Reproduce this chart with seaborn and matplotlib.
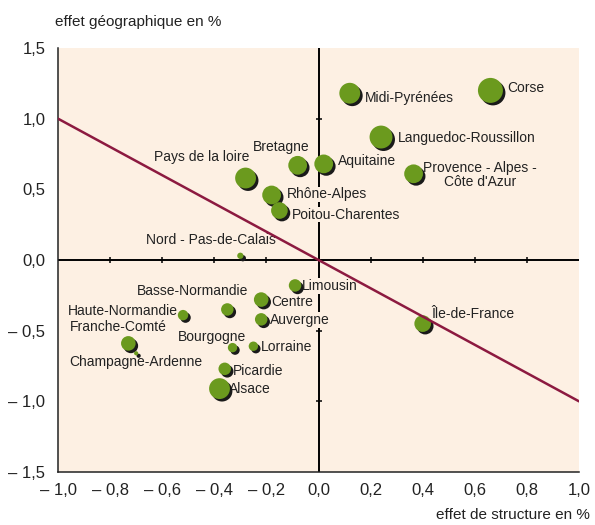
import numpy as np
import pandas as pd
import matplotlib
matplotlib.use("Agg")
import matplotlib.pyplot as plt
import matplotlib.transforms as mtransforms
import seaborn as sns

# ---- data ----
regions = ["Corse", "Midi-Pyrénées", "Languedoc-Roussillon",
           "Provence - Alpes -\nCôte d'Azur", "Aquitaine", "Bretagne",
           "Pays de la loire", "Rhône-Alpes", "Poitou-Charentes",
           "Nord - Pas-de-Calais", "Limousin", "Centre", "Basse-Normandie",
           "Auvergne", "Haute-Normandie", "Bourgogne", "Lorraine",
           "Franche-Comté", "Champagne-Ardenne", "Picardie", "Alsace",
           "Île-de-France"]
effet_structure = [0.66, 0.12, 0.24, 0.365, 0.02, -0.08, -0.28, -0.18, -0.15,
                   -0.30, -0.09, -0.22, -0.35, -0.22, -0.52, -0.33, -0.25,
                   -0.73, -0.70, -0.36, -0.38, 0.40]
effet_geo = [1.20, 1.18, 0.87, 0.61, 0.68, 0.67, 0.58, 0.46, 0.35,
             0.03, -0.18, -0.28, -0.35, -0.42, -0.39, -0.62, -0.61,
             -0.59, -0.66, -0.77, -0.91, -0.45]
poids = [12, 10, 11, 9, 9, 9, 10, 9, 8, 3, 6, 7, 6, 6, 5, 4.5, 4.5, 7, 2, 6, 10, 8]

x_ticks = [-1.0, -0.8, -0.6, -0.4, -0.2, 0.0, 0.2, 0.4, 0.6, 0.8, 1.0]
x_ticklabels = ["– 1,0", "– 0,8", "– 0,6", "– 0,4", "– 0,2", "0,0",
                "0,2", "0,4", "0,6", "0,8", "1,0"]
y_ticks = [-1.5, -1.0, -0.5, 0.0, 0.5, 1.0, 1.5]
y_ticklabels = ["– 1,5", "– 1,0", "– 0,5", "0,0", "0,5", "1,0", "1,5"]
ligne_x = [-1.0, 1.0]
ligne_y = [1.0, -1.0]

# label offsets in points (dx, dy, ha)
label_pos = {
    "Corse": (12, 1.5, "left"),
    "Midi-Pyrénées": (11, -3.5, "left"),
    "Languedoc-Roussillon": (12, -0.5, "left"),
    "Provence - Alpes -\nCôte d'Azur": (7, -1, "left"),
    "Aquitaine": (10, 2, "left"),
    "Bretagne": (-12, 13, "center"),
    "Pays de la loire": (3, 15, "right"),
    "Rhône-Alpes": (11, 0.5, "left"),
    "Poitou-Charentes": (9, -3, "left"),
    "Nord - Pas-de-Calais": (-21, 11, "center"),
    "Limousin": (5, -0.5, "left"),
    "Centre": (7, -2, "left"),
    "Basse-Normandie": (-25, 13, "center"),
    "Auvergne": (6, -0.5, "left"),
    "Haute-Normandie": (-4, 3, "right"),
    "Bourgogne": (-15, 8, "center"),
    "Lorraine": (5.5, -0.5, "left"),
    "Franche-Comté": (-7, 11.5, "center"),
    "Champagne-Ardenne": (0, -6.5, "center"),
    "Picardie": (6, -1.5, "left"),
    "Alsace": (7, -0.5, "left"),
    "Île-de-France": (6, 7, "left"),
}

df = pd.DataFrame({"region": regions, "x": effet_structure,
                   "y": effet_geo, "poids": poids})
df["aire"] = (np.array(poids) * 0.75 * 2) ** 2

sns.set_theme(style="white")
plt.rcParams["font.family"] = ["Liberation Sans", "DejaVu Sans"]

bg = "#fdf0e3"
green = "#6b9a1e"
txt = "#222222"
fig = plt.figure(figsize=(5.95, 5.25), dpi=100)
ax = fig.add_axes([58 / 595, 1 - 472 / 525, 521 / 595, 424 / 525])
ax.set_facecolor(bg)

ax.set_xlim(-1.0, 1.0)
ax.set_ylim(-1.5, 1.5)

# centre axes
ax.axhline(0, color="black", lw=1.4, zorder=1)
ax.axvline(0, color="black", lw=1.4, zorder=1)
inner_x = [t for t in x_ticks[1:-1] if abs(t) > 1e-9]
inner_y = [t for t in y_ticks[1:-1] if abs(t) > 1e-9]
ax.plot(inner_x, [0] * len(inner_x), ls="none", marker="|", ms=5, mew=1.1,
        color="black", zorder=1)
ax.plot([0] * len(inner_y), inner_y, ls="none", marker="_", ms=5, mew=1.1,
        color="black", zorder=1)

# shadow
shadow_tr = mtransforms.offset_copy(ax.transData, fig=fig, x=1.8, y=-1.8, units="points")
ax.scatter(df["x"], df["y"], s=df["aire"], color="#1a1a1a", transform=shadow_tr,
           zorder=3, linewidths=0)
sns.scatterplot(data=df, x="x", y="y", size="aire", sizes=(df["aire"].min(), df["aire"].max()),
                color=green, edgecolor="none", legend=False, ax=ax, zorder=4)

# line
sns.lineplot(x=ligne_x, y=ligne_y, color="#8c1a40", lw=1.8, ax=ax, zorder=5)

for r, xv, yv in zip(regions, effet_structure, effet_geo):
    dx, dy, ha = label_pos[r]
    ax.annotate(r, (xv, yv), xytext=(dx, dy), textcoords="offset points",
                ha=ha, va="center", multialignment="center",
                fontsize=10, color=txt, zorder=2, linespacing=0.95,
                bbox=dict(boxstyle="square,pad=0.05", fc=bg, ec="none"))

ax.set_xticks(x_ticks)
ax.set_xticklabels(x_ticklabels, fontsize=12, color=txt)
ax.set_yticks(y_ticks)
ax.set_yticklabels(y_ticklabels, fontsize=12, color=txt)
ax.tick_params(axis="x", length=0, pad=8)
ax.tick_params(axis="y", length=0, pad=9)
ax.set_xlabel("")
ax.set_ylabel("")

for s in ["top", "right"]:
    ax.spines[s].set_visible(False)
for s in ["left", "bottom"]:
    ax.spines[s].set_color("#222222")
    ax.spines[s].set_linewidth(1.1)

fig.text(55 / 595, 1 - 22 / 525, "effet géographique en %", fontsize=11,
         color=txt, ha="left", va="center")
fig.text(590 / 595, 1 - 515 / 525, "effet de structure en %", fontsize=11,
         color=txt, ha="right", va="center")

fig.savefig("out.png", dpi=100, facecolor="white")
